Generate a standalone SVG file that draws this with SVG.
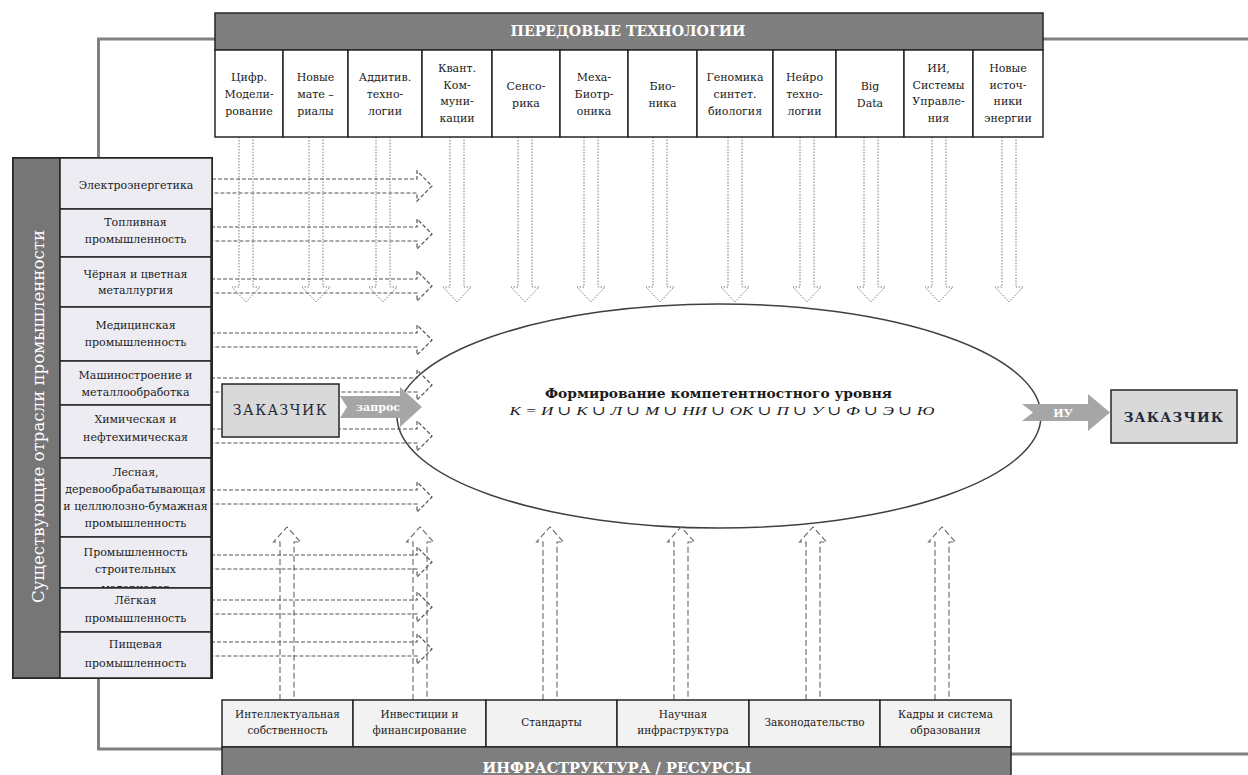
<svg xmlns="http://www.w3.org/2000/svg" width="1248" height="775" viewBox="0 0 1248 775">
<style>
.t{font-family:"DejaVu Serif","Liberation Serif",serif;font-size:11px;fill:#1a1a1a;text-anchor:middle}
.b{font-family:"DejaVu Serif","Liberation Serif",serif;font-weight:bold;fill:#fff;text-anchor:middle}
.cell{fill:#fff;stroke:#262626;stroke-width:1.5}
.row{fill:#EEECF3;stroke:#262626;stroke-width:1.5}
.bcell{fill:#F2F2F2;stroke:#262626;stroke-width:1.5}
.bar{fill:#7F7F7F;stroke:#262626;stroke-width:1.5}
.frame{stroke:#808080;stroke-width:3;fill:none}
.dn{fill:none;stroke:#7a7a7a;stroke-width:1;stroke-dasharray:1.5 1.5}
.hz{fill:none;stroke:#555;stroke-width:1.2;stroke-dasharray:4 2}
.up{fill:none;stroke:#666;stroke-width:1.1;stroke-dasharray:6 3}
.gar{fill:#A6A6A6}
.box{fill:#D9D9D9;stroke:#262626;stroke-width:1.5}
</style>
<defs>
<clipPath id="clipRow8"><rect x="60" y="537" width="151" height="51"/></clipPath>
</defs>
<rect width="1248" height="775" fill="#fff"/>

<g id="frame">
<path class="frame" d="M98.5,158 V39 H215 M1043,39 H1248"/>
<path class="frame" d="M98.5,678 V749 H222 M1011,754 H1248"/>
</g>

<g id="ellipse">
<ellipse cx="719" cy="416" rx="322" ry="112" fill="#fff" stroke="#404040" stroke-width="1.5"/>
<text class="t" x="718.5" y="398" style="font-weight:bold;font-size:13px" textLength="347" lengthAdjust="spacingAndGlyphs">Формирование компетентностного уровня</text>
<text class="t" x="722" y="415" style="font-style:italic;font-size:13px;font-family:'Liberation Serif','DejaVu Serif',serif" textLength="425" lengthAdjust="spacingAndGlyphs">К = И ∪ К ∪ Л ∪ М ∪ НИ ∪ ОК ∪ П ∪ У ∪ Ф ∪ Э ∪ Ю</text>
</g>

<g id="connectors">
<path class="dn" d="M239,137 V287 H232 L246,302 L260,287 H253 V137"/>
<path class="dn" d="M309,137 V287 H302 L316,302 L330,287 H323 V137"/>
<path class="dn" d="M376,137 V287 H369 L383,302 L397,287 H390 V137"/>
<path class="dn" d="M450,137 V287 H443 L457,302 L471,287 H464 V137"/>
<path class="dn" d="M518,137 V287 H511 L525,302 L539,287 H532 V137"/>
<path class="dn" d="M584,137 V287 H577 L591,302 L605,287 H598 V137"/>
<path class="dn" d="M653,137 V287 H646 L660,302 L674,287 H667 V137"/>
<path class="dn" d="M728,137 V287 H721 L735,302 L749,287 H742 V137"/>
<path class="dn" d="M800,137 V287 H793 L807,302 L821,287 H814 V137"/>
<path class="dn" d="M864,137 V287 H857 L871,302 L885,287 H878 V137"/>
<path class="dn" d="M932,137 V287 H925 L939,302 L953,287 H946 V137"/>
<path class="dn" d="M1002,137 V287 H995 L1009,302 L1023,287 H1016 V137"/>
<path class="hz" d="M212,179 H417 V171 L432,186 L417,201 V193 H212"/>
<path class="hz" d="M211,227 H417 V219 L432,234 L417,249 V241 H211"/>
<path class="hz" d="M211,279 H417 V271 L432,286 L417,301 V293 H211"/>
<path class="hz" d="M211,333 H417 V325 L432,340 L417,355 V347 H211"/>
<path class="hz" d="M211,378 H417 V370 L432,385 L417,400 V392 H211"/>
<path class="hz" d="M211,429 H417 V421 L432,436 L417,451 V443 H211"/>
<path class="hz" d="M211,490 H417 V482 L432,497 L417,512 V504 H211"/>
<path class="hz" d="M211,555 H417 V547 L432,562 L417,577 V569 H211"/>
<path class="hz" d="M211,600 H417 V592 L432,607 L417,622 V614 H211"/>
<path class="hz" d="M211,642 H417 V634 L432,649 L417,664 V656 H211"/>
<path class="up" d="M280,700 V542 H273.5 L287,527 L300.5,542 H294 V700"/>
<path class="up" d="M413,700 V542 H406.5 L420,527 L433.5,542 H427 V700"/>
<path class="up" d="M543,700 V542 H536.5 L550,527 L563.5,542 H557 V700"/>
<path class="up" d="M674,700 V542 H667.5 L681,527 L694.5,542 H688 V700"/>
<path class="up" d="M806,700 V542 H799.5 L813,527 L826.5,542 H820 V700"/>
<path class="up" d="M935,700 V542 H928.5 L942,527 L955.5,542 H949 V700"/>
<g id="zapros">
<path class="gar" d="M340,396 H400 V387 L422,407 L400,427 V418 H340 L347,407 Z"/>
<text class="b" x="378" y="411" style="font-size:11px">запрос</text>
</g>
<g id="iu">
<path class="gar" d="M1022,404 H1088 V394 L1110,412.5 L1088,431 V421 H1022 L1033,412.5 Z"/>
<text class="b" x="1063" y="416.5" style="font-size:11px">ИУ</text>
</g>
</g>

<g id="tech-header">
<rect class="bar" x="215" y="13" width="828" height="37"/>
<text class="b" x="628" y="36" style="font-size:15px" textLength="235" lengthAdjust="spacingAndGlyphs">ПЕРЕДОВЫЕ ТЕХНОЛОГИИ</text>
</g>
<g id="tech-cifr"><rect class="cell" x="215" y="50" width="68" height="87"/>
<text class="t" x="249" y="81">Цифр.</text><text class="t" x="249" y="98">Модели-</text><text class="t" x="249" y="115">рование</text></g>
<g id="tech-materials"><rect class="cell" x="283" y="50" width="65" height="87"/>
<text class="t" x="315.5" y="81">Новые</text><text class="t" x="315.5" y="98">мате –</text><text class="t" x="315.5" y="115">риалы</text></g>
<g id="tech-additive"><rect class="cell" x="348" y="50" width="74" height="87"/>
<text class="t" x="385" y="81">Аддитив.</text><text class="t" x="385" y="98">техно-</text><text class="t" x="385" y="115">логии</text></g>
<g id="tech-quantum"><rect class="cell" x="422" y="50" width="70" height="87"/>
<text class="t" x="457" y="72">Квант.</text><text class="t" x="457" y="88.5">Ком-</text><text class="t" x="457" y="105">муни-</text><text class="t" x="457" y="121.5">кации</text></g>
<g id="tech-sensorics"><rect class="cell" x="492" y="50" width="68" height="87"/>
<text class="t" x="526" y="90">Сенсо-</text><text class="t" x="526" y="106.5">рика</text></g>
<g id="tech-mechabio"><rect class="cell" x="560" y="50" width="68" height="87"/>
<text class="t" x="594" y="81">Меха-</text><text class="t" x="594" y="98">Биотр-</text><text class="t" x="594" y="115">оника</text></g>
<g id="tech-bionics"><rect class="cell" x="628" y="50" width="69" height="87"/>
<text class="t" x="662.5" y="90">Био-</text><text class="t" x="662.5" y="106.5">ника</text></g>
<g id="tech-genomics"><rect class="cell" x="697" y="50" width="76" height="87"/>
<text class="t" x="735" y="81">Геномика</text><text class="t" x="735" y="98">синтет.</text><text class="t" x="735" y="115">биология</text></g>
<g id="tech-neuro"><rect class="cell" x="773" y="50" width="63" height="87"/>
<text class="t" x="804.5" y="81">Нейро</text><text class="t" x="804.5" y="98">техно-</text><text class="t" x="804.5" y="115">логии</text></g>
<g id="tech-bigdata"><rect class="cell" x="836" y="50" width="68" height="87"/>
<text class="t" x="870" y="90">Big</text><text class="t" x="870" y="106.5">Data</text></g>
<g id="tech-ai"><rect class="cell" x="904" y="50" width="69" height="87"/>
<text class="t" x="938.5" y="72">ИИ,</text><text class="t" x="938.5" y="88.5">Системы</text><text class="t" x="938.5" y="105">Управле-</text><text class="t" x="938.5" y="121.5">ния</text></g>
<g id="tech-energy"><rect class="cell" x="973" y="50" width="70" height="87"/>
<text class="t" x="1008" y="72">Новые</text><text class="t" x="1008" y="88.5">источ-</text><text class="t" x="1008" y="105">ники</text><text class="t" x="1008" y="121.5">энергии</text></g>

<g id="industries">
<rect x="13" y="158" width="199" height="520" fill="none" stroke="#262626" stroke-width="2"/>
<rect x="13" y="158" width="47" height="520" fill="#767676" stroke="#262626" stroke-width="1.5"/>
<text class="b" transform="translate(44,416.5) rotate(-90)" style="font-weight:normal;font-size:16px" textLength="373" lengthAdjust="spacingAndGlyphs">Существующие отрасли промышленности</text>
</g>
<g id="ind-electro"><rect class="row" x="60" y="158" width="152" height="51"/>
<text class="t" x="136" y="189">Электроэнергетика</text></g>
<g id="ind-fuel"><rect class="row" x="60" y="209" width="151" height="48"/>
<text class="t" x="135.5" y="226">Топливная</text><text class="t" x="135.5" y="243">промышленность</text></g>
<g id="ind-metal"><rect class="row" x="60" y="257" width="151" height="50"/>
<text class="t" x="135.5" y="278">Чёрная  и цветная</text><text class="t" x="135.5" y="294">металлургия</text></g>
<g id="ind-medical"><rect class="row" x="60" y="307" width="151" height="54"/>
<text class="t" x="135.5" y="329">Медицинская</text><text class="t" x="135.5" y="346">промышленность</text></g>
<g id="ind-machine"><rect class="row" x="60" y="361" width="151" height="44"/>
<text class="t" x="135.5" y="379">Машиностроение  и</text><text class="t" x="135.5" y="396">металлообработка</text></g>
<g id="ind-chem"><rect class="row" x="60" y="405" width="151" height="53"/>
<text class="t" x="135.5" y="423">Химическая  и</text><text class="t" x="135.5" y="441">нефтехимическая</text></g>
<g id="ind-forest"><rect class="row" x="60" y="458" width="151" height="79"/>
<text class="t" x="135.5" y="476">Лесная,</text><text class="t" x="135.5" y="493">деревообрабатывающая</text><text class="t" x="135.5" y="510">и целлюлозно-бумажная</text><text class="t" x="135.5" y="527">промышленность</text></g>
<g id="ind-build"><rect class="row" x="60" y="537" width="151" height="51"/>
<g clip-path="url(#clipRow8)"><text class="t" x="135.5" y="556">Промышленность</text><text class="t" x="135.5" y="573">строительных</text><text class="t" x="135.5" y="592">материалов</text></g></g>
<g id="ind-light"><rect class="row" x="60" y="588" width="151" height="44"/>
<text class="t" x="135.5" y="604">Лёгкая</text><text class="t" x="135.5" y="622">промышленность</text></g>
<g id="ind-food"><rect class="row" x="60" y="632" width="151" height="46"/>
<text class="t" x="135.5" y="648">Пищевая</text><text class="t" x="135.5" y="667">промышленность</text></g>

<g id="customer-left">
<rect class="box" x="222" y="384" width="117" height="53"/>
<text class="t" x="280.5" y="415" style="font-size:14px;letter-spacing:1.5px;fill:#1f2a3a">ЗАКАЗЧИК</text>
</g>
<g id="customer-right">
<rect class="box" x="1111" y="390" width="126" height="53"/>
<text class="t" x="1174" y="421.5" style="font-size:13.5px;letter-spacing:1.2px;font-weight:bold;fill:#1f2a3a">ЗАКАЗЧИК</text>
</g>

<g id="infra-ip"><rect class="bcell" x="222" y="700" width="131" height="47"/>
<text class="t" x="287.5" y="718" style="font-size:10.5px">Интеллектуальная</text><text class="t" x="287.5" y="734" style="font-size:10.5px">собственность</text></g>
<g id="infra-invest"><rect class="bcell" x="353" y="700" width="133" height="47"/>
<text class="t" x="419.5" y="718" style="font-size:10.5px">Инвестиции  и</text><text class="t" x="419.5" y="734" style="font-size:10.5px">финансирование</text></g>
<g id="infra-standards"><rect class="bcell" x="486" y="700" width="131" height="47"/>
<text class="t" x="551.5" y="726" style="font-size:10.5px">Стандарты</text></g>
<g id="infra-science"><rect class="bcell" x="617" y="700" width="132" height="47"/>
<text class="t" x="683" y="718" style="font-size:10.5px">Научная</text><text class="t" x="683" y="734" style="font-size:10.5px">инфраструктура</text></g>
<g id="infra-law"><rect class="bcell" x="749" y="700" width="131" height="47"/>
<text class="t" x="814.5" y="726" style="font-size:10.5px">Законодательство</text></g>
<g id="infra-staff"><rect class="bcell" x="880" y="700" width="131" height="47"/>
<text class="t" x="945.5" y="718" style="font-size:10.5px">Кадры и система</text><text class="t" x="945.5" y="734" style="font-size:10.5px">образования</text></g>
<g id="infra-bar">
<rect class="bar" x="222" y="747" width="789" height="30"/>
<text class="b" x="617" y="773" style="font-size:15px" textLength="269" lengthAdjust="spacingAndGlyphs">ИНФРАСТРУКТУРА / РЕСУРСЫ</text>
</g>
</svg>
